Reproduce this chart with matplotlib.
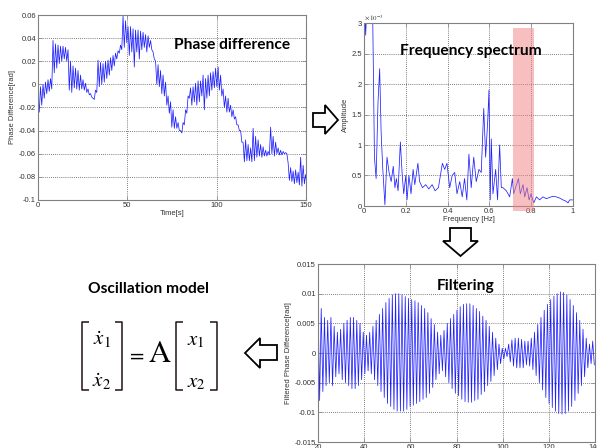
import numpy as np
import matplotlib
matplotlib.use("Agg")
import matplotlib.pyplot as plt
from matplotlib.patches import Polygon, Rectangle

plt.rcParams['axes.unicode_minus'] = False
plt.rcParams['mathtext.fontset'] = 'stix'
plt.rcParams['font.family'] = ['Liberation Sans', 'DejaVu Sans']

# ---------------- data ----------------
# Panel 1: phase difference, one oscillation cycle every 1.4 s (upper / lower extreme, x1e-3 rad)
phase_cycle = 1.4
phase_hi = [-10, -2, 0, 2, 4, 5, 38, 35, 34, 33, 33, 32, 30, 20, 16, 14, 12, 8, 4, 1,
            -4, -8, -12, -5, 21, 19, 18, 20, 21, 23, 25, 27, 29, 34, 59, 55, 50, 50, 48, 47,
            47, 46, 45, 43, 42, 38, 28, 20, 17, 12, 8, 2, -10, -15, -22, -28, -33, -40, -33, -22,
            -10, -3, -2, 1, 3, 3, 8, 5, 8, 10, 11, 14, 15, 8, -4, -10, -12, -18, -22, -28,
            -35, -40, -50, -48, -52, -55, -38, -45, -48, -52, -54, -57, -58, -37, -45, -50, -55, -57, -58, -59,
            -68, -72, -75, -74, -76, -63, -70, -78]
phase_lo = [-24, -18, -12, -8, -6, -4, 10, 14, 18, 20, 22, 20, -5, -7, -3, -4, -5, -4, -5, -7,
            -9, -11, -13, -7, -2, 0, 2, 5, 8, 12, 16, 22, 27, 30, 32, 36, 25, 28, 15, 28,
            22, 30, 32, 28, 32, 30, 22, 0, -2, -8, -10, -18, -25, -37, -38, -38, -40, -42, -35, -25,
            -12, -18, -15, -18, -15, -10, -22, -12, -10, -5, -3, -2, -5, -10, -20, -24, -24, -28, -30, -35,
            -40, -50, -67, -66, -66, -67, -66, -63, -62, -63, -62, -62, -61, -60, -62, -60, -61, -61, -60, -60,
            -83, -84, -86, -85, -87, -88, -86, -86]

# Panel 2: frequency spectrum (Hz, amplitude x1e-3)
freq = [0.000, 0.008, 0.015, 0.030, 0.042, 0.050, 0.058, 0.067, 0.075, 0.082, 0.090, 0.100,
        0.110, 0.120, 0.130, 0.140, 0.148, 0.155, 0.163, 0.174, 0.183, 0.190, 0.200, 0.206,
        0.215, 0.225, 0.235, 0.243, 0.258, 0.266, 0.280, 0.295, 0.310, 0.326, 0.340, 0.356,
        0.375, 0.386, 0.397, 0.410, 0.422, 0.434, 0.445, 0.458, 0.470, 0.481, 0.492, 0.502,
        0.513, 0.525, 0.537, 0.550, 0.561, 0.573, 0.582, 0.592, 0.598, 0.604, 0.609, 0.617,
        0.630, 0.639, 0.649, 0.657, 0.665, 0.681, 0.697, 0.710, 0.716, 0.725, 0.739, 0.748,
        0.761, 0.769, 0.780, 0.790, 0.799, 0.812, 0.825, 0.840, 0.856, 0.872, 0.888, 0.904,
        0.920, 0.936, 0.952, 0.966, 0.976, 0.984, 1.000]
amp = [3.5, 2.8, 3.4, 3.6, 3.0, 0.8, 0.45, 1.7, 2.25, 1.2, 0.6, 0.02,
       0.8, 0.55, 0.4, 0.65, 0.3, 0.45, 0.25, 1.05, 0.5, 0.2, 0.5, 0.1,
       0.5, 0.2, 0.6, 0.35, 0.7, 0.4, 0.3, 0.35, 0.28, 0.35, 0.25, 0.3,
       0.7, 0.6, 0.7, 0.3, 0.5, 0.55, 0.2, 0.4, 0.15, 0.45, 0.1, 0.85,
       0.3, 0.8, 0.4, 0.6, 0.55, 1.6, 0.8, 1.4, 1.9, 0.1, 1.1, 0.2,
       0.6, 0.1, 1.0, 0.3, 0.3, 0.25, 0.15, 0.45, 0.2, 0.3, 0.45, 0.2,
       0.35, 0.15, 0.3, 0.1, 0.2, 0.05, 0.15, 0.1, 0.15, 0.12, 0.14, 0.16,
       0.15, 0.13, 0.1, 0.08, 0.05, 0.1, 0.1]
band = [0.713, 0.813]

# Panel 3: filtered phase difference, peak / trough per 1.4 s cycle (x1e-3 rad)
filt_start, filt_cycle = 20.0, 1.4
filt_pk = [9.0, 7.5, 6.0, 5.5, 6.0, 4.5, 3.5, 4.0, 5.0, 5.5, 6.0, 6.0, 5.5, 5.0, 3.5, 3.0, 3.5, 4.5, 5.5, 6.5,
           7.5, 8.5, 9.2, 9.8, 10.0, 10.0, 9.8, 9.5, 9.2, 9.0, 8.8, 8.5, 8.0, 7.5, 6.8, 5.8, 4.8, 3.5, 3.0, 3.8,
           5.0, 5.8, 6.5, 7.2, 7.8, 8.2, 8.3, 8.3, 8.0, 7.5, 7.0, 6.2, 5.5, 4.5, 3.5, 2.5, 1.5, 0.8, 0.8, 1.5,
           2.2, 2.5, 2.5, 2.3, 2.0, 2.0, 2.5, 3.5, 4.8, 6.0, 7.2, 8.2, 9.0, 9.6, 10.0, 10.3, 10.2, 9.8, 9.0, 8.0,
           6.8, 5.5, 4.0, 2.5, 1.5, 2.0]
filt_tr = [-8.0, -6.5, -5.5, -5.0, -5.5, -4.0, -3.5, -4.5, -5.0, -5.5, -6.0, -6.0, -5.5, -4.5, -3.5, -3.0, -3.5, -4.5, -5.5, -6.5,
           -7.5, -8.5, -9.0, -9.5, -9.8, -9.8, -9.8, -9.5, -9.0, -8.8, -8.5, -8.2, -7.8, -7.5, -6.8, -5.8, -4.5, -3.5, -3.0, -4.0,
           -5.0, -6.0, -6.8, -7.2, -7.8, -8.2, -8.3, -8.3, -8.0, -7.8, -7.0, -6.5, -5.5, -4.8, -3.8, -2.8, -1.8, -1.0, -0.6, -1.5,
           -2.2, -2.5, -2.5, -2.5, -2.0, -2.2, -2.8, -3.8, -5.0, -6.2, -7.5, -8.5, -9.2, -9.8, -10.2, -10.3, -10.2, -9.8, -9.0, -8.0,
           -6.8, -5.5, -4.0, -2.5, -1.8, -2.0]

# ---------------- figure ----------------
W, H = 597, 448
fig = plt.figure(figsize=(W / 100, H / 100), dpi=100)
fig.patch.set_facecolor('white')


def px_axes(l, t, r, b):
    return fig.add_axes([l / W, 1 - b / H, (r - l) / W, (b - t) / H])


def style(ax):
    for s in ax.spines.values():
        s.set_color('#808080')
        s.set_linewidth(0.8)
    ax.tick_params(direction='in', length=3, width=0.5, color='#808080', labelcolor='#333333',
                   labelsize=5.5, pad=1.5, top=True, right=True)
    ax.grid(True, color='#333333', linestyle=(0, (1.2, 1.8)), linewidth=0.5)
    ax.set_axisbelow(True)


def interleave(t0, step, hi, lo):
    n = len(hi)
    t = np.empty(2 * n)
    v = np.empty(2 * n)
    t[0::2] = t0 + np.arange(n) * step
    t[1::2] = t0 + np.arange(n) * step + step / 2
    v[0::2] = hi
    v[1::2] = lo
    return t, v * 1e-3


# Panel 1
ax1 = px_axes(38, 15, 306, 200)
t1, v1 = interleave(0.0, phase_cycle, phase_hi, phase_lo)
ax1.plot(t1, v1, color='#2020ff', lw=0.55)
ax1.set_xlim(0, 150)
ax1.set_ylim(-0.1, 0.06)
ax1.set_xticks([0, 50, 100, 150])
ax1.set_yticks([-0.1, -0.08, -0.06, -0.04, -0.02, 0, 0.02, 0.04, 0.06])
ax1.set_yticklabels(['-0.1', '-0.08', '-0.06', '-0.04', '-0.02', '0', '0.02', '0.04', '0.06'])
style(ax1)
ax1.set_xlabel('Time[s]', fontsize=5.5, labelpad=1, color='#333333')
ax1.set_ylabel('Phase Difference[rad]', fontsize=5.5, labelpad=2, color='#333333')

# Panel 2
ax2 = px_axes(364, 23, 573, 206)
ax2.plot(freq, amp, color='#2020ff', lw=0.55)
ax2.set_xlim(0, 1)
ax2.set_ylim(0, 3)
ax2.set_xticks([0, 0.2, 0.4, 0.6, 0.8, 1])
ax2.set_xticklabels(['0', '0.2', '0.4', '0.6', '0.8', '1'])
ax2.set_yticks([0, 0.5, 1, 1.5, 2, 2.5, 3])
ax2.set_yticklabels(['0', '0.5', '1', '1.5', '2', '2.5', '3'])
style(ax2)
ax2.add_patch(Rectangle((band[0], -0.08), band[1] - band[0], 3.0, facecolor='#f08080',
                        alpha=0.5, edgecolor='none', clip_on=False, zorder=3))
ax2.text(0.0, 1.005, r'$\times\,10^{-3}$', transform=ax2.transAxes, fontsize=5,
         color='#333333', va='bottom', ha='left')
ax2.set_xlabel('Frequency [Hz]', fontsize=5.5, labelpad=1, color='#333333')
ax2.set_ylabel('Amplitude', fontsize=5.5, labelpad=2, color='#333333')

# Panel 3
ax3 = px_axes(318, 264, 595, 442)
t3, v3 = interleave(filt_start, filt_cycle, filt_pk, filt_tr)
ax3.plot(t3, v3, color='#2020ff', lw=0.55)
ax3.set_xlim(20, 140)
ax3.set_ylim(-0.015, 0.015)
ax3.set_xticks([20, 40, 60, 80, 100, 120, 140])
ax3.set_yticks([-0.015, -0.01, -0.005, 0, 0.005, 0.01, 0.015])
ax3.set_yticklabels(['-0.015', '-0.01', '-0.005', '0', '0.005', '0.01', '0.015'])
style(ax3)
ax3.set_xlabel('Time[s]', fontsize=5.5, labelpad=1, color='#333333')
ax3.set_ylabel('Filtered Phase Difference[rad]', fontsize=5.5, labelpad=2, color='#333333')

# ---------------- overlay (titles, arrows, equation) ----------------
ov = fig.add_axes([0, 0, 1, 1], zorder=10)
ov.set_xlim(0, W)
ov.set_ylim(H, 0)
ov.axis('off')
ov.patch.set_alpha(0)

title_kw = dict(fontsize=11.2, fontweight='bold', family=['Lato', 'DejaVu Sans'],
                color='black', ha='center', va='baseline')
ov.text(232, 49, 'Phase difference', **title_kw)
ov.text(471, 55, 'Frequency spectrum', **title_kw)
ov.text(466, 290, 'Filtering', **title_kw)
ov.text(148, 293, 'Oscillation model', **title_kw)

arrow_kw = dict(closed=True, facecolor='white', edgecolor='black', linewidth=1.3, zorder=5)
# right arrow
ov.add_patch(Polygon([(313, 113), (325, 113), (325, 105), (338, 120), (325, 134), (325, 127), (313, 127)], **arrow_kw))
# down arrow
ov.add_patch(Polygon([(450, 228), (471, 228), (471, 241), (478, 241), (460.5, 256), (443, 241), (450, 241)], **arrow_kw))
# left arrow
ov.add_patch(Polygon([(277, 345), (260, 345), (260, 338), (245, 353), (260, 368), (260, 360), (277, 360)], **arrow_kw))

# matrix equation
bk = dict(color='#221111', lw=1.1, solid_capstyle='butt')
top_y, bot_y = 322, 390
for xb, sgn in [(82, 1), (122, -1), (176, 1), (217, -1)]:
    ov.plot([xb + sgn * 7, xb, xb, xb + sgn * 7], [top_y, top_y, bot_y, bot_y], **bk)

eq_kw = dict(fontsize=15, color='black', ha='center', va='baseline')
ov.text(102, 345, r'$\dot{x}_{\mathit{1}}$', **eq_kw)
ov.text(102, 387, r'$\dot{x}_{\mathit{2}}$', **eq_kw)
ov.text(196, 345, r'$x_{\mathit{1}}$', **eq_kw)
ov.text(196, 387, r'$x_{\mathit{2}}$', **eq_kw)
ov.text(135, 361, r'$=$', fontsize=15, color='black', ha='center', va='baseline')
ov.text(160, 362, r'$\mathrm{A}$', fontsize=22, color='black', ha='center', va='baseline')

fig.savefig('out.png', dpi=100)
